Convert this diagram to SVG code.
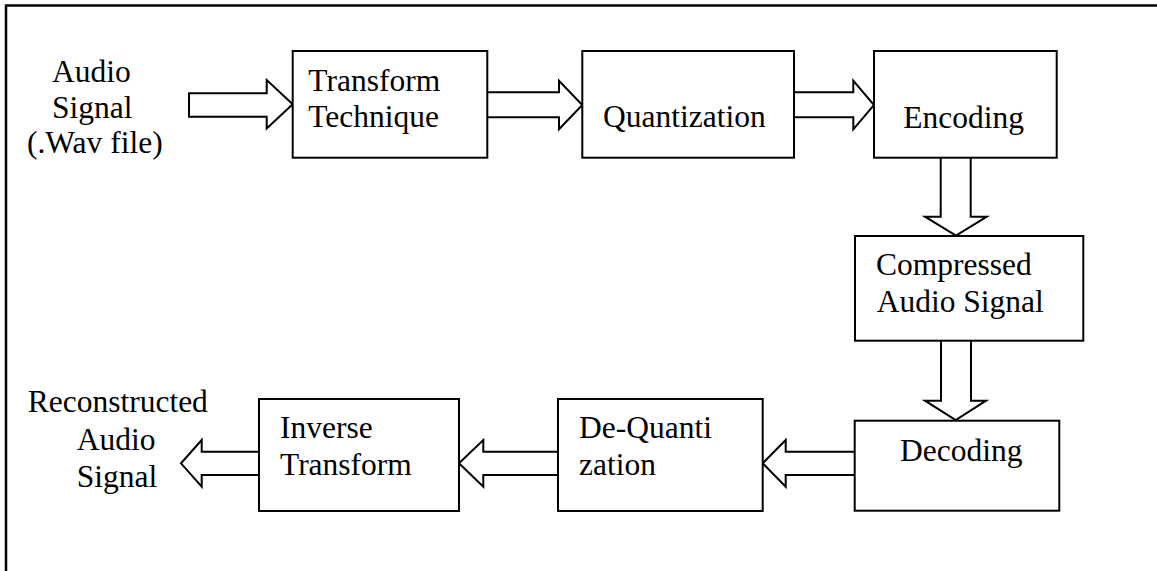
<svg xmlns="http://www.w3.org/2000/svg" width="1157" height="571" viewBox="0 0 1157 571">
<style>
.box{fill:#fff;stroke:#000;stroke-width:2}
.arr{fill:#fff;stroke:#000;stroke-width:2;stroke-linejoin:miter}
text{font-family:"Liberation Serif","Times New Roman",serif;font-size:31.5px;fill:#000}
.frame{fill:none;stroke:#000;stroke-width:2.5}
</style>
<rect width="1157" height="571" fill="#fff"/>
<path class="frame" d="M6,571 V5.5 H1157"/>
<g id="connectors">
<path class="arr" d="M189,93.3 H266.7 V80 L292.7,104.3 L266.7,128.5 V116.7 H189 Z"/>
<path class="arr" d="M487.3,92.3 H559 V80.7 L582.3,105 L559,129.3 V117.3 H487.3"/>
<path class="arr" d="M794,92.3 H853.3 V80.7 L874,105 L853.3,129.3 V117.3 H794"/>
<path class="arr" d="M940.7,158 V216.7 H925 L956,235.5 L986.7,216.7 H970.7 V158"/>
<path class="arr" d="M941,341 V400.7 H925 L955.7,420 L986,400.7 H971 V341"/>
<path class="arr" d="M854.7,451.7 H785.7 V440 L762.7,463.3 L785.7,486.7 V475 H854.7"/>
<path class="arr" d="M558,451.7 H483.3 V440 L459,463.3 L483.3,486.7 V475 H558"/>
<path class="arr" d="M259,451.7 H201.7 V440 L181,463.3 L201.7,486.7 V475 H259"/>
</g>
<g id="input">
<text x="52" y="81.7">Audio</text>
<text x="52" y="118">Signal</text>
<text x="27" y="153">(.Wav file)</text>
</g>
<g id="transform">
<rect class="box" x="292.7" y="51" width="194.6" height="106.7"/>
<text x="308.3" y="91">Transform</text>
<text x="308.3" y="127">Technique</text>
</g>
<g id="quantization">
<rect class="box" x="582.3" y="51" width="211.7" height="106.7"/>
<text x="603" y="127.3">Quantization</text>
</g>
<g id="encoding">
<rect class="box" x="874" y="51" width="182.7" height="106.7"/>
<text x="903.3" y="127.5">Encoding</text>
</g>
<g id="compressed">
<rect class="box" x="855" y="236" width="228.3" height="104.7"/>
<text x="876" y="275">Compressed</text>
<text x="876.7" y="311.5">Audio Signal</text>
</g>
<g id="decoding">
<rect class="box" x="854.7" y="420.7" width="204.6" height="90"/>
<text x="900" y="461">Decoding</text>
</g>
<g id="dequantization">
<rect class="box" x="558" y="399" width="204.7" height="112"/>
<text x="579" y="438.3">De-Quanti</text>
<text x="579" y="475">zation</text>
</g>
<g id="inverse">
<rect class="box" x="259" y="399" width="200" height="112"/>
<text x="280" y="438.3">Inverse</text>
<text x="280" y="475">Transform</text>
</g>
<g id="output">
<text x="27.7" y="411.7">Reconstructed</text>
<text x="76.7" y="450">Audio</text>
<text x="76.7" y="486.7">Signal</text>
</g>
</svg>
